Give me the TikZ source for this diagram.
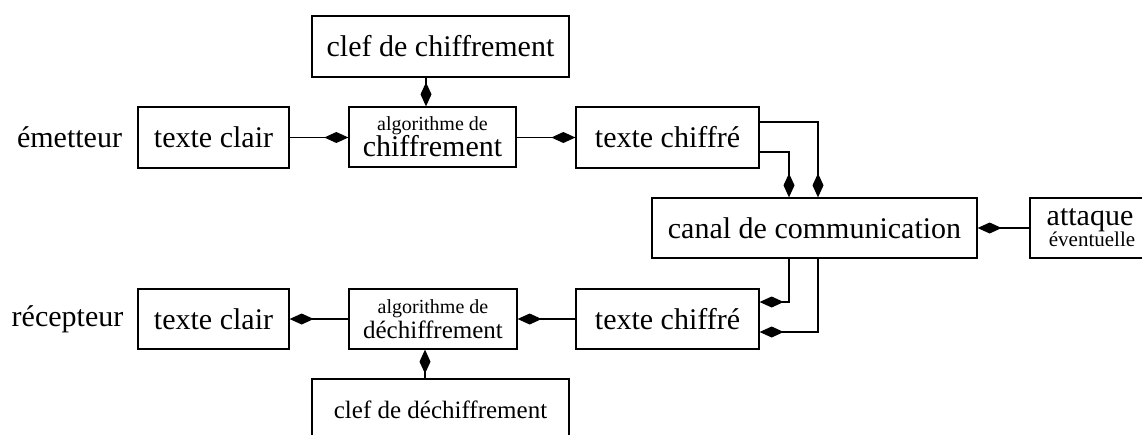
\documentclass[tikz,border=0pt]{standalone}
\usepackage{fontspec}
\setmainfont{Liberation Serif}
\usetikzlibrary{arrows.meta}
\begin{document}
\begin{tikzpicture}[x=1pt,y=-1pt,
  box/.style={draw,line width=1.3pt,inner sep=0pt,font=\fontsize{30}{30}\selectfont},
  conn/.style={line width=1.3pt,-{Diamond[length=24pt,width=11pt]}},
  lbl/.style={font=\fontsize{30}{30}\selectfont,inner sep=0pt}]
\useasboundingbox (0,0) rectangle (1142,434);
\node[box,minimum width=257pt,minimum height=61pt] (clef1) at (440.5,46.5) {clef de chiffrement};
\node[box,minimum width=167pt,minimum height=60pt,align=center] (algo1) at (432.5,137) {{\fontsize{20}{24}\selectfont algorithme de}\\[-4pt]chiffrement};
\node[box,minimum width=151pt,minimum height=61pt] (clair1) at (213.5,137.5) {texte clair};
\node[box,minimum width=183pt,minimum height=61pt] (chif1) at (667.5,137.5) {texte chiffré};
\node[box,minimum width=325pt,minimum height=60pt] (canal) at (814.5,228) {canal de communication};
\node[box,minimum width=120pt,minimum height=60pt,align=center] (att) at (1090,228) {attaque\\[-9pt]{\fontsize{21}{24}\selectfont \hspace{4pt}éventuelle}};
\node[box,minimum width=183pt,minimum height=60pt] (chif2) at (667.5,319) {texte chiffré};
\node[box,minimum width=168pt,minimum height=60pt,align=center] (algo2) at (433,319) {{\fontsize{20}{24}\selectfont algorithme de}\\[-5pt]{\fontsize{25}{25}\selectfont déchiffrement}};
\node[box,minimum width=151pt,minimum height=60pt] (clair2) at (213.5,319) {texte clair};
\node[box,minimum width=257pt,minimum height=61pt,font=\fontsize{25}{25}\selectfont] (clef2) at (440.5,409.5) {clef de déchiffrement};
\node[lbl] (em) at (69.5,137) {émetteur};
\node[lbl] (rec) at (67.5,319) {récepteur};
% top row
\draw[conn] (clef1.south -| 426,0) -- (algo1.north -| 426,0);
\draw[conn] (clair1.east) -- (algo1.west |- clair1.east);
\draw[conn] (algo1.east |- chif1.west) -- (chif1.west);
\draw[conn] (chif1.east |- 0,122) -| (canal.north -| 818,0);
\draw[conn] (chif1.east |- 0,152) -| (canal.north -| 789,0);
% attack
\draw[conn] (att.west) -- (canal.east);
% bottom row
\draw[conn] (canal.south -| 789,0) |- (chif2.east |- 0,302);
\draw[conn] (canal.south -| 818,0) |- (chif2.east |- 0,332);
\draw[conn] (chif2.west) -- (algo2.east |- chif2.west);
\draw[conn] (algo2.west) -- (clair2.east |- algo2.west);
\draw[conn] (clef2.north -| 425,0) -- (algo2.south -| 425,0);
\end{tikzpicture}
\end{document}
